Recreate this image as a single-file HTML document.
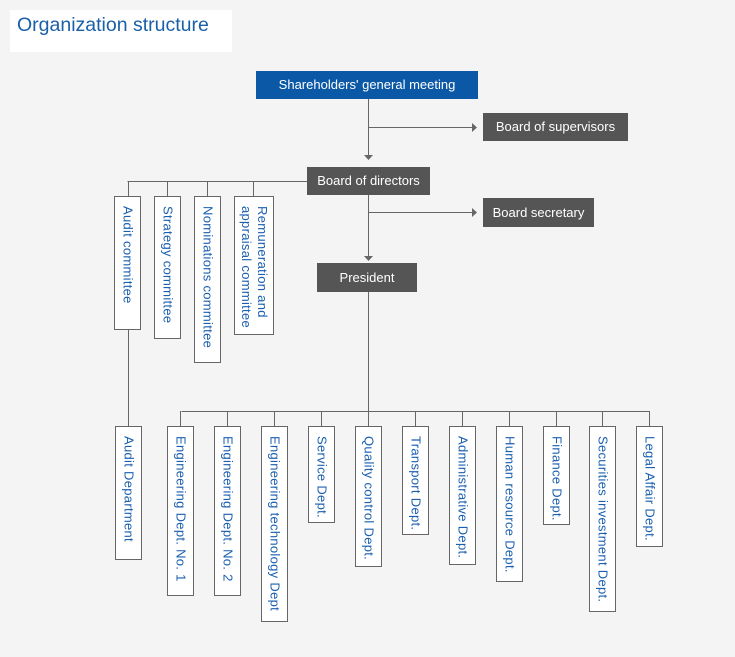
<!DOCTYPE html>
<html><head><meta charset="utf-8"><style>
body{margin:0;width:735px;height:657px;background:#f4f4f4;position:relative;overflow:hidden;font-family:"Liberation Sans",sans-serif}
.a{position:absolute}
.t{left:10px;top:10px;width:222px;height:42px;background:#fff;color:#1a5fa8;font-size:19.5px;line-height:30px;padding-left:7px;box-sizing:border-box}
.hb{color:#fff;font-size:13px;text-align:center;box-sizing:border-box}
.v{position:absolute;background:#fff;border:1px solid #666;box-sizing:border-box;color:#1a5fb0;font-size:13px;letter-spacing:0.3px;writing-mode:vertical-rl;padding-top:9px;line-height:16px;display:flex;align-items:center;white-space:nowrap}
.w{white-space:normal}
</style></head><body>
<div class="a t">Organization structure</div>
<svg class="a" style="left:0;top:0" width="735" height="657">
<g stroke="#666" stroke-width="1" fill="none">
<path d="M368.5 99V155M368.5 127.5H472M368.5 195V256M368.5 212.5H472M368.5 292V426"/>
<path d="M127.5 181.5H307M128.5 181V196M167.5 181V196M207.5 181V196M253.5 181V196M128.5 330V426"/>
<path d="M181.5 411.5H649.5M180.5 411V426M227.5 411V426M274.5 411V426M321.5 411V426M415.5 411V426M462.5 411V426M509.5 411V426M556.5 411V426M602.5 411V426M649.5 411V426"/>
</g>
<g fill="#666">
<path d="M364 155h9l-4.5 5z"/><path d="M364 256h9l-4.5 5z"/>
<path d="M472 123v9l5-4.5z"/><path d="M472 208v9l5-4.5z"/>
</g>
</svg>
<div class="a hb" style="left:256px;top:71px;width:222px;height:28px;line-height:28px;background:#0b58a6">Shareholders' general meeting</div>
<div class="a hb" style="left:483px;top:113px;width:145px;height:28px;line-height:28px;background:#555">Board of supervisors</div>
<div class="a hb" style="left:307px;top:167px;width:123px;height:28px;line-height:28px;background:#555">Board of directors</div>
<div class="a hb" style="left:483px;top:198px;width:111px;height:29px;line-height:29px;background:#555">Board secretary</div>
<div class="a hb" style="left:317px;top:263px;width:100px;height:29px;line-height:29px;background:#555">President</div>

<div class="v" style="left:114px;top:196px;width:27px;height:134px">Audit committee</div>
<div class="v" style="left:154px;top:196px;width:27px;height:143px">Strategy committee</div>
<div class="v" style="left:194px;top:196px;width:27px;height:167px">Nominations committee</div>
<div class="v w" style="left:234px;top:196px;width:40px;height:139px">Remuneration and appraisal committee</div>

<div class="v" style="left:115px;top:426px;width:27px;height:134px">Audit Department</div>
<div class="v" style="left:167px;top:426px;width:27px;height:170px">Engineering Dept. No. 1</div>
<div class="v" style="left:214px;top:426px;width:27px;height:170px">Engineering Dept. No. 2</div>
<div class="v" style="left:261px;top:426px;width:27px;height:196px">Engineering technology Dept</div>
<div class="v" style="left:308px;top:426px;width:27px;height:97px">Service Dept.</div>
<div class="v" style="left:355px;top:426px;width:27px;height:141px">Quality control Dept.</div>
<div class="v" style="left:402px;top:426px;width:27px;height:109px">Transport Dept.</div>
<div class="v" style="left:449px;top:426px;width:27px;height:139px">Administrative Dept.</div>
<div class="v" style="left:496px;top:426px;width:27px;height:156px">Human resource Dept.</div>
<div class="v" style="left:543px;top:426px;width:27px;height:99px">Finance Dept.</div>
<div class="v" style="left:589px;top:426px;width:27px;height:186px">Securities investment Dept.</div>
<div class="v" style="left:636px;top:426px;width:27px;height:121px">Legal Affair Dept.</div>
</body></html>
